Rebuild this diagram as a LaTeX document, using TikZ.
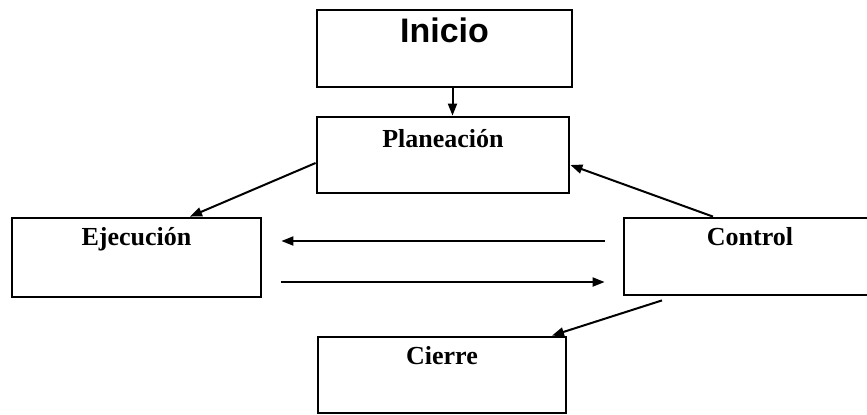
\documentclass[tikz,border=0pt]{standalone}
\usepackage{fontspec}
\setmainfont{Liberation Serif}
\newfontfamily\arialfont{Liberation Sans}
\usetikzlibrary{arrows.meta,calc}

\begin{document}
\begin{tikzpicture}[x=0.5pt,y=-0.5pt,>={Triangle[length=6pt,width=4.5pt]},
  box/.style={draw,line width=1.4pt,inner sep=0pt,minimum width=#1,
    text height=13.5pt,text depth=25pt,font=\fontsize{13}{15}\selectfont\bfseries},
  arr/.style={->,line width=1pt}]
  \useasboundingbox (0,0) rectangle (867,414);
  \node[box=127.5pt,text height=16pt,text depth=22.5pt,
    font=\arialfont\fontsize{17}{19}\selectfont\bfseries] (inicio) at (444.5,48.5) {Inicio};
  \node[box=126pt,text height=15pt,text depth=23pt] (plan) at (443,155) {Planeación};
  \node[box=124.5pt,text depth=26pt] (ejec) at (136.5,257.5) {Ejecución};
  \node[box=126pt] (ctrl) at (750,256.5) {Control};
  \node[box=124pt,text depth=24.5pt] (cierre) at (442,375) {Cierre};
  % connectors
  \draw[arr] ($(inicio.south)+(8,0)$) -- ($(plan.north)+(9.5,0)$);
  \draw[arr] ($(plan.west)+(0,8)$) -- ($(ejec.north)+(53.5,0)$);
  \draw[arr] ($(ctrl.north)+(-37,0)$) -- ($(plan.east)+(0,10)$);
  \draw[arr] ($(ctrl.south)+(-88,4)$) -- ($(cierre.north)+(110,0)$);
  \draw[arr] ($(ctrl.west)+(-18,-15.5)$) -- ($(ejec.east)+(19,-16.5)$);
  \draw[arr] ($(ejec.east)+(19,24.5)$) -- ($(ctrl.west)+(-18,25.5)$);
\end{tikzpicture}
\end{document}
